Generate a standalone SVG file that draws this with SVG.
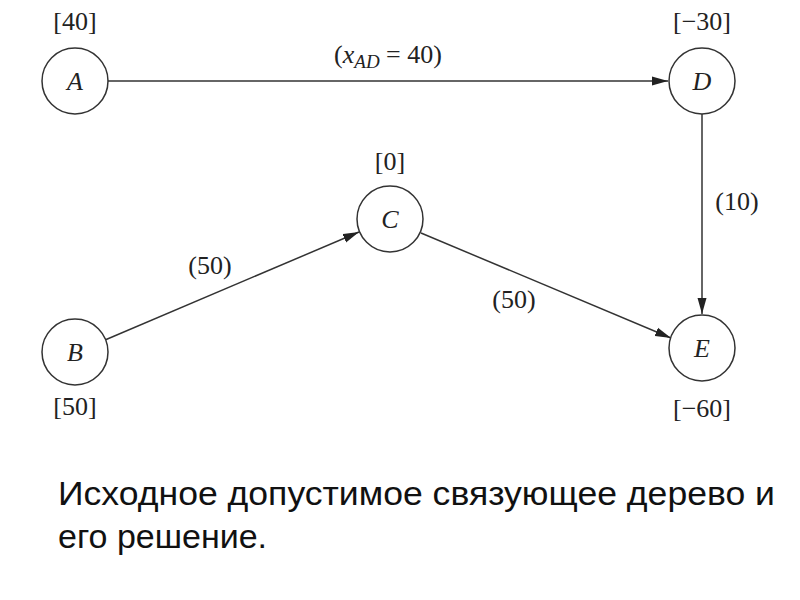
<svg xmlns="http://www.w3.org/2000/svg" width="800" height="600" viewBox="0 0 800 600">
<defs>
<marker id="arr" viewBox="0 0 16 10" refX="16" refY="5" markerWidth="16" markerHeight="10" markerUnits="userSpaceOnUse" orient="auto"><path d="M0,0.5 L16,5 L0,9.5 z" fill="#222"/></marker>
</defs>
<style>
.node circle{fill:#fff;stroke:#333;stroke-width:1.5}
.nl{font-family:"Liberation Serif",serif;font-style:italic;font-size:26px;fill:#222;text-anchor:middle}
.lab{font-family:"Liberation Serif",serif;font-size:26px;fill:#222;text-anchor:middle}
.edge{stroke:#333;stroke-width:1.5;fill:none;marker-end:url(#arr)}
.cap{font-family:"Liberation Sans",Arial,sans-serif;font-size:34px;fill:#111}
</style>
<rect width="800" height="600" fill="#fff"/>
<g id="connectors">
<line class="edge" x1="108" y1="81" x2="668" y2="81"/>
<line class="edge" x1="702" y1="114" x2="702" y2="314"/>
<line class="edge" x1="105" y1="340" x2="359" y2="232"/>
<line class="edge" x1="421" y1="233" x2="671" y2="338"/>
<text class="lab" x="388" y="63">(<tspan font-style="italic">x</tspan><tspan font-style="italic" font-size="19" dy="5">AD</tspan><tspan dy="-5"> = 40)</tspan></text>
<text class="lab" x="737" y="210">(10)</text>
<text class="lab" x="210" y="274">(50)</text>
<text class="lab" x="514" y="308">(50)</text>
</g>
<g id="A" class="node"><circle cx="75" cy="81" r="33"/><text class="nl" x="75" y="90">A</text><text class="lab" x="75" y="30">[40]</text></g>
<g id="D" class="node"><circle cx="702" cy="81" r="33"/><text class="nl" x="702" y="90">D</text><text class="lab" x="702" y="30">[−30]</text></g>
<g id="C" class="node"><circle cx="390" cy="219" r="33"/><text class="nl" x="390" y="228">C</text><text class="lab" x="390" y="170">[0]</text></g>
<g id="B" class="node"><circle cx="75" cy="352" r="33"/><text class="nl" x="75" y="361">B</text><text class="lab" x="75" y="415">[50]</text></g>
<g id="E" class="node"><circle cx="702" cy="348" r="33"/><text class="nl" x="702" y="357">E</text><text class="lab" x="702" y="417">[−60]</text></g>
<text class="cap" x="58" y="505" textLength="717" lengthAdjust="spacingAndGlyphs">Исходное допустимое связующее дерево и</text>
<text class="cap" x="58" y="548">его решение.</text>
</svg>
